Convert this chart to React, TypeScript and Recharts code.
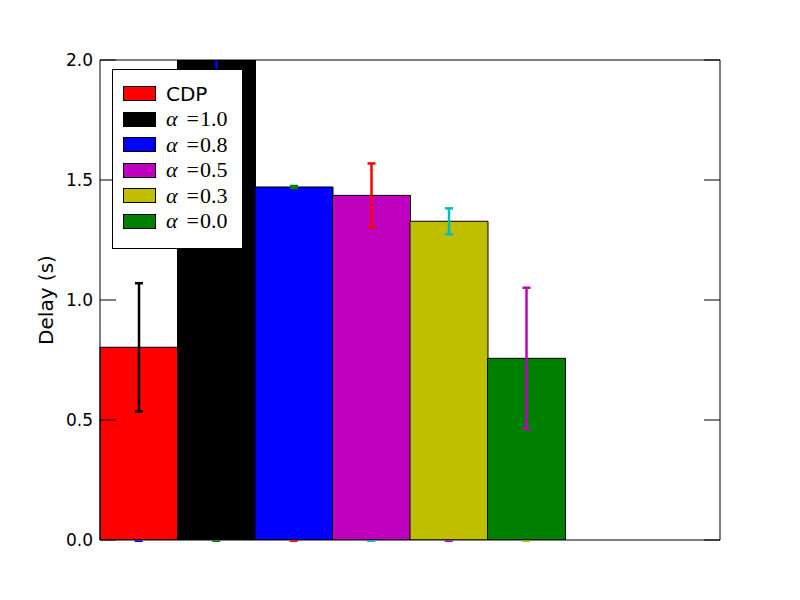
import React from 'react';
import { ComposedChart, Bar, ErrorBar, Scatter, XAxis, YAxis, Legend } from 'recharts';

// one bar per series, laid out left to right in the first six of eight slots
const seriesNames = ['CDP', 'α=1.0', 'α=0.8', 'α=0.5', 'α=0.3', 'α=0.0'];
const barColors = ['#ff0000', '#000000', '#0000ff', '#bf00bf', '#bfbf00', '#008000'];
const delayMeans = [0.803, 2.3, 1.471, 1.436, 1.328, 0.757];
const delayErrors = [0.267, 0.36, 0.004, 0.133, 0.054, 0.294];
const errorColors = ['#000000', '#0000ff', '#008000', '#ff0000', '#00bfbf', '#bf00bf'];
const baseCapColors = ['#0000ff', '#008000', '#ff0000', '#00bfbf', '#bf00bf', '#bfbf00'];
const slots = [0, 1, 2, 3, 4, 5, 6, 7];
const yTicks = [0, 0.5, 1.0, 1.5, 2.0];

const chartData = slots.map((slot) => {
  const row: Record<string, number | null> = { slot, base: slot < seriesNames.length ? 0 : null };
  seriesNames.forEach((_, j) => {
    row[`v${j}`] = slot === j ? delayMeans[j] : null;
    row[`e${j}`] = slot === j ? delayErrors[j] : null;
  });
  return row;
});

const W = 800;
const H = 600;
const LEFT_W = 100;
const RIGHT_W = 80;
const TOP_H = 60;
const BOTTOM_H = 60;
const TICK_LEN = 16;
const sansFont = '"DejaVu Sans", sans-serif';
const serifFont = '"Liberation Serif", "DejaVu Serif", serif';

const LeftTick = ({ x, y, payload }: any) => (
  <g>
    <line x1={x + 7} x2={x + 7 + TICK_LEN} y1={y} y2={y} stroke="#000" strokeWidth={1} />
    <text x={x} y={y} textAnchor="end" dominantBaseline="central" fontFamily={sansFont} fontSize={17} fill="#000">
      {payload.value.toFixed(1)}
    </text>
  </g>
);

const RightTick = ({ x, y }: any) => (
  <line x1={x - TICK_LEN} x2={x} y1={y} y2={y} stroke="#000" strokeWidth={1} />
);

const YLabel = ({ viewBox }: any) => {
  const cx = viewBox.x + 46;
  const cy = viewBox.y + viewBox.height / 2;
  return (
    <text x={cx} y={cy} transform={`rotate(-90, ${cx}, ${cy})`} textAnchor="middle" dominantBaseline="central"
      fontFamily={sansFont} fontSize={20} fill="#000">
      Delay (s)
    </text>
  );
};

const BaseCap = ({ cx, cy, payload }: any) => (
  <line x1={cx - 4} x2={cx + 4} y1={cy + 1.2} y2={cy + 1.2} stroke={baseCapColors[payload.slot]} strokeWidth={1.6} />
);

const LegendLabel = ({ text }: { text: string }) => {
  if (!text.startsWith('α')) {
    return <span style={{ fontFamily: sansFont, fontSize: 20 }}>{text}</span>;
  }
  const [, rhs] = text.split('=');
  return (
    <span style={{ fontFamily: serifFont, fontSize: 22, whiteSpace: 'nowrap' }}>
      <i>α</i>
      <span style={{ marginLeft: 9 }}>=</span>
      <span style={{ marginLeft: 1 }}>{rhs}</span>
    </span>
  );
};

// legend drawn from the series arrays, in the order the bars were plotted
const LegendBox = () => (
  <div style={{ background: '#fff', border: '1px solid #000', width: 119, padding: '11px 0 14px 10px', boxSizing: 'content-box' }}>
    {seriesNames.map((name, j) => (
      <div key={name} style={{ display: 'flex', alignItems: 'center', height: 25.5 }}>
        <div style={{ width: 31, height: 13, background: barColors[j], border: '1px solid #000', marginRight: 10, flexShrink: 0 }} />
        <LegendLabel text={name} />
      </div>
    ))}
  </div>
);

export default function App() {
  return (
    <div style={{ position: 'absolute', left: 0, top: 0, width: W, height: H, background: '#fff' }}>
      <svg width={0} height={0} style={{ position: 'absolute' }}>
        <defs>
          <clipPath id="plot-clip">
            <rect x={LEFT_W} y={TOP_H} width={W - LEFT_W - RIGHT_W} height={H - TOP_H - BOTTOM_H} />
          </clipPath>
        </defs>
      </svg>
      <ComposedChart width={W} height={H} data={chartData} barCategoryGap={0} barGap={0}
        margin={{ top: 0, right: 0, bottom: 0, left: 0 }}>
        <XAxis dataKey="slot" height={BOTTOM_H} tick={false} tickLine={false} axisLine={{ stroke: '#000' }} />
        <XAxis xAxisId="top" dataKey="slot" orientation="top" height={TOP_H} tick={false} tickLine={false} axisLine={{ stroke: '#000' }} />
        <YAxis width={LEFT_W} domain={[0, 2]} ticks={yTicks} allowDataOverflow interval={0}
          tickSize={0} tickMargin={7} tickLine={false} axisLine={{ stroke: '#000' }}
          tick={<LeftTick />} label={<YLabel />} />
        <YAxis yAxisId="right" orientation="right" width={RIGHT_W} domain={[0, 2]} ticks={yTicks} interval={0}
          tickSize={0} tickMargin={0} tickLine={false} axisLine={{ stroke: '#000' }} tick={<RightTick />} />
        {seriesNames.map((name, j) => (
          <Bar key={name} dataKey={`v${j}`} name={name} stackId="delay" fill={barColors[j]}
            stroke="#000" strokeWidth={1} isAnimationActive={false}>
            <ErrorBar dataKey={`e${j}`} direction="y" width={4} stroke={errorColors[j]} strokeWidth={2.5}
              clipPath="url(#plot-clip)" isAnimationActive={false} />
          </Bar>
        ))}
        <Scatter dataKey="base" yAxisId="right" legendType="none" shape={<BaseCap />} isAnimationActive={false} />
        <Legend layout="vertical" align="center" verticalAlign="middle" content={<LegendBox />}
          wrapperStyle={{ position: 'absolute', left: 112, top: 69, width: 'auto' }} />
      </ComposedChart>
    </div>
  );
}
